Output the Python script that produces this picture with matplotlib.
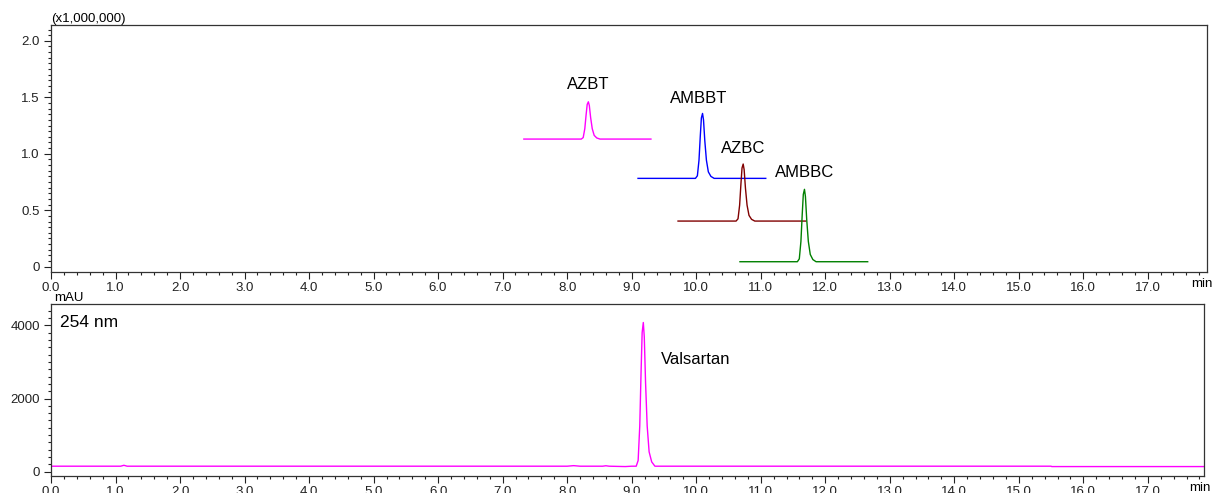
import numpy as np
import matplotlib
matplotlib.use("Agg")
import matplotlib.pyplot as plt
from matplotlib.ticker import MultipleLocator, FixedLocator

plt.rcParams['font.family'] = ['Liberation Sans', 'DejaVu Sans']

# Peak profile: time offset from apex (min) and fraction of peak height
profile_dt = [-0.11, -0.08, -0.055, -0.035, -0.018, 0.0, 0.015, 0.035, 0.06, 0.09, 0.13, 0.18]
profile_frac = [0.0, 0.04, 0.28, 0.65, 0.93, 1.0, 0.9, 0.58, 0.28, 0.1, 0.03, 0.0]

# Top panel (x1,000,000): one trace per compound
names = ["AZBT", "AMBBT", "AZBC", "AMBBC"]
colors = ["#ff00ff", "#0000ff", "#800000", "#008000"]
t_start = [7.33, 9.10, 9.72, 10.68]
t_end = [9.30, 11.08, 11.70, 12.66]
apex_t = [8.33, 10.10, 10.73, 11.68]
baseline = [1.130, 0.782, 0.404, 0.044]
apex_y = [1.46, 1.357, 0.909, 0.685]
label_t = [8.33, 10.04, 10.73, 11.68]
label_y = [1.617, 1.493, 1.05, 0.838]

# Bottom panel (mAU, 254 nm)
base_t = [0.0, 1.08, 1.13, 1.18, 8.0, 8.1, 8.2, 8.55, 8.6, 8.65, 8.9, 9.0,
          9.5, 15.5, 15.51, 17.9]
base_y = [150, 150, 175, 150, 150, 165, 150, 150, 162, 150, 140, 150,
          150, 150, 140, 140]
valsartan_t = 9.18
valsartan_y = 4080
valsartan_label = (9.46, 3060)


def trace(rt, base, top):
    t = [rt + d for d in profile_dt]
    y = [base + (top - base) * f for f in profile_frac]
    return t, y


fig = plt.figure(figsize=(12.14, 4.93), dpi=100)
ax1 = fig.add_axes([51 / 1214, 1 - 272 / 493, (1207 - 51) / 1214, (272 - 25) / 493])
ax2 = fig.add_axes([51 / 1214, 1 - 476 / 493, (1204 - 51) / 1214, (476 - 304) / 493])

for i in range(len(names)):
    pt, py = trace(apex_t[i], baseline[i], apex_y[i])
    t = [t_start[i]] + pt + [t_end[i]]
    y = [baseline[i]] + py + [baseline[i]]
    ax1.plot(t, y, color=colors[i], lw=1.0)
    ax1.text(label_t[i], label_y[i], names[i], ha='center', va='center', fontsize=12)

pt, py = trace(valsartan_t, 150, valsartan_y)
bt = np.array(base_t)
by = np.array(base_y)
keep = (bt < pt[0]) | (bt > pt[-1])
t_all = np.concatenate([bt[keep], pt])
y_all = np.concatenate([by[keep], py])
order = np.argsort(t_all)
ax2.plot(t_all[order], y_all[order], color="#ff00ff", lw=1.0)
ax2.text(valsartan_label[0], valsartan_label[1], "Valsartan", ha='left', va='center', fontsize=12)

ax1.set_xlim(0, 17.92)
ax1.set_ylim(-0.047, 2.14)
ax2.set_xlim(0, 17.87)
ax2.set_ylim(-118, 4586)

for ax in (ax1, ax2):
    ax.xaxis.set_major_locator(FixedLocator(np.arange(0, 18, 1.0)))
    ax.xaxis.set_minor_locator(MultipleLocator(0.2))
    ax.xaxis.set_major_formatter(plt.FuncFormatter(lambda v, p: "%.1f" % v))
    ax.tick_params(which='major', direction='out', length=5, width=0.8, labelsize=9.5,
                   colors='#222222', pad=2)
    ax.tick_params(which='minor', direction='out', length=2.5, width=0.8, colors='#222222')
    ax.tick_params(axis='y', which='major', length=5, pad=3)
    for s in ax.spines.values():
        s.set_color('#333333')
        s.set_linewidth(0.9)

ax1.yaxis.set_major_locator(FixedLocator([0, 0.5, 1.0, 1.5, 2.0]))
ax1.yaxis.set_minor_locator(MultipleLocator(0.05))
ax1.set_yticklabels(["0", "0.5", "1.0", "1.5", "2.0"])
ax2.yaxis.set_major_locator(FixedLocator([0, 2000, 4000]))
ax2.yaxis.set_minor_locator(MultipleLocator(200))
ax2.set_yticklabels(["0", "2000", "4000"])

ax1.text(0, 1.0, "(x1,000,000)", transform=ax1.transAxes, ha='left', va='bottom', fontsize=9.5)
ax2.text(0.003, 1.0, "mAU", transform=ax2.transAxes, ha='left', va='bottom', fontsize=9.5)
ax2.text(0.008, 0.89, "254 nm", transform=ax2.transAxes, ha='left', va='center', fontsize=12.5)
fig.text(1213 / 1214, 1 - 284 / 493, "min", ha='right', va='center', fontsize=9.5)
fig.text(1211 / 1214, 1 - 488 / 493, "min", ha='right', va='center', fontsize=9.5)

fig.savefig("out.png", dpi=100)
